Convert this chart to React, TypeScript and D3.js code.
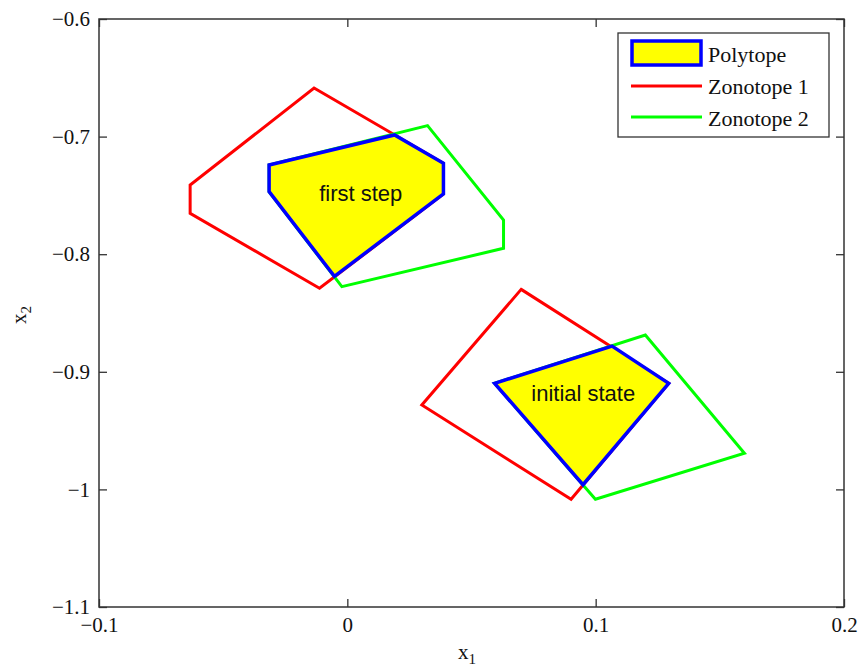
import React, { useEffect, useRef } from "react";
import * as d3 from "d3";

type Pt = [number, number];

const xTicks = [-0.1, 0, 0.1, 0.2];
const yTicks = [-0.6, -0.7, -0.8, -0.9, -1, -1.1];

// first step
const zono1Step: Pt[] = [[-0.0134, -0.6587], [0.0387, -0.7227], [0.0387, -0.7488], [-0.0112, -0.829], [-0.0633, -0.7652], [-0.0633, -0.7412]];
const zono2Step: Pt[] = [[0.0323, -0.6907], [0.0629, -0.7709], [0.0629, -0.795], [-0.0022, -0.8276], [-0.0315, -0.7468], [-0.0315, -0.7241]];
const polyStep: Pt[] = [[-0.0315, -0.7241], [0.019, -0.6986], [0.0387, -0.7227], [0.0387, -0.7488], [-0.0052, -0.8188], [-0.0315, -0.7468]];

// initial state
const zono1Init: Pt[] = [[0.07, -0.8299], [0.1294, -0.9098], [0.0901, -1.0084], [0.03, -0.9282]];
const zono2Init: Pt[] = [[0.12, -0.8687], [0.1599, -0.9693], [0.0999, -1.0084], [0.0593, -0.9098]];
const polyInit: Pt[] = [[0.0593, -0.9098], [0.1066, -0.8781], [0.1294, -0.9098], [0.0949, -0.996]];

const labelText = ["first step", "initial state"];
const labelPos: Pt[] = [[0.0054, -0.7545], [0.095, -0.9252]];

const legendNames = ["Polytope", "Zonotope 1", "Zonotope 2"];

export default function App() {
  const ref = useRef<SVGSVGElement>(null);
  const width = 860;
  const height = 671;
  const margin = { top: 19, right: 16, bottom: 64, left: 99 };

  useEffect(() => {
    const svg = d3.select(ref.current);
    svg.selectAll("*").remove();

    const x = d3.scaleLinear().domain([-0.1, 0.2]).range([margin.left, width - margin.right]);
    const y = d3.scaleLinear().domain([-1.1, -0.6]).range([height - margin.bottom, margin.top]);
    const fmt = (d: number) => d3.format("")(d);

    const line = d3.line<Pt>().x(d => x(d[0])).y(d => y(d[1])).curve(d3.curveLinearClosed);

    const serif = "'Liberation Serif', 'Times New Roman', serif";

    // zonotopes
    svg.selectAll(".z1").data([zono1Step, zono1Init]).enter().append("path")
      .attr("fill", "none").attr("stroke", "#ff0000").attr("stroke-width", 3)
      .attr("d", line);
    svg.selectAll(".z2").data([zono2Step, zono2Init]).enter().append("path")
      .attr("fill", "none").attr("stroke", "#00ff00").attr("stroke-width", 3)
      .attr("d", line);
    svg.selectAll(".poly").data([polyStep, polyInit]).enter().append("path")
      .attr("fill", "#ffff00").attr("stroke", "#0000ff").attr("stroke-width", 3.5)
      .attr("d", line);

    svg.selectAll(".lbl").data(labelText).enter().append("text")
      .attr("x", (d, i) => x(labelPos[i][0]))
      .attr("y", (d, i) => y(labelPos[i][1]))
      .attr("text-anchor", "middle")
      .attr("font-family", "'Liberation Sans', Arial, sans-serif")
      .attr("font-size", 22)
      .attr("fill", "#111")
      .text(d => d);

    // axes box
    const axisColor = "#333";
    const styleAxis = (g: any) => {
      g.select(".domain").remove();
      g.selectAll("line").attr("stroke", axisColor).attr("stroke-width", 1.3);
      g.selectAll("text").attr("font-family", serif).attr("font-size", 21).attr("fill", "#111");
    };
    svg.append("g").attr("transform", `translate(0,${height - margin.bottom})`)
      .call(d3.axisBottom(x).tickValues(xTicks).tickFormat(fmt as any).tickSizeInner(-8).tickSizeOuter(0).tickPadding(10))
      .call(styleAxis);
    svg.append("g").attr("transform", `translate(0,${margin.top})`)
      .call(d3.axisTop(x).tickValues(xTicks).tickFormat(() => "").tickSizeInner(-8).tickSizeOuter(0))
      .call(styleAxis);
    svg.append("g").attr("transform", `translate(${margin.left},0)`)
      .call(d3.axisLeft(y).tickValues(yTicks).tickFormat(fmt as any).tickSizeInner(-8).tickSizeOuter(0).tickPadding(9))
      .call(styleAxis);
    svg.append("g").attr("transform", `translate(${width - margin.right},0)`)
      .call(d3.axisRight(y).tickValues(yTicks).tickFormat(() => "").tickSizeInner(-8).tickSizeOuter(0))
      .call(styleAxis);
    svg.append("rect")
      .attr("x", margin.left).attr("y", margin.top)
      .attr("width", width - margin.left - margin.right)
      .attr("height", height - margin.top - margin.bottom)
      .attr("fill", "none").attr("stroke", axisColor).attr("stroke-width", 1.5);

    // axis labels
    const xl = svg.append("text").attr("x", 467).attr("y", 659)
      .attr("text-anchor", "middle").attr("font-family", serif).attr("font-size", 21).attr("fill", "#111");
    xl.append("tspan").text("x");
    xl.append("tspan").attr("font-size", 15).attr("dy", 5).text("1");
    const yl = svg.append("text").attr("transform", "translate(26,315) rotate(-90)")
      .attr("text-anchor", "middle").attr("font-family", serif).attr("font-size", 21).attr("fill", "#111");
    yl.append("tspan").text("x");
    yl.append("tspan").attr("font-size", 15).attr("dy", 5).text("2");

    // legend
    const lg = svg.append("g").attr("transform", "translate(618,33)");
    lg.append("rect").attr("width", 211).attr("height", 104)
      .attr("fill", "#fff").attr("stroke", axisColor).attr("stroke-width", 1.3);
    lg.append("rect").attr("x", 14).attr("y", 8).attr("width", 69).attr("height", 24)
      .attr("fill", "#ffff00").attr("stroke", "#0000ff").attr("stroke-width", 3.5);
    const lineColors = ["#ff0000", "#00ff00"];
    lg.selectAll(".ll").data(lineColors).enter().append("line")
      .attr("x1", 13).attr("x2", 84)
      .attr("y1", (d, i) => 53 + i * 31).attr("y2", (d, i) => 53 + i * 31)
      .attr("stroke", d => d).attr("stroke-width", 3);
    lg.selectAll(".lt").data(legendNames).enter().append("text")
      .attr("x", 90).attr("y", (d, i) => 29 + i * 32)
      .attr("font-family", serif).attr("font-size", 22).attr("fill", "#111")
      .text(d => d);
  }, []);

  return (
    <svg ref={ref} width={width} height={height}
      style={{ position: "absolute", left: 0, top: 0, background: "#fff" }} />
  );
}
